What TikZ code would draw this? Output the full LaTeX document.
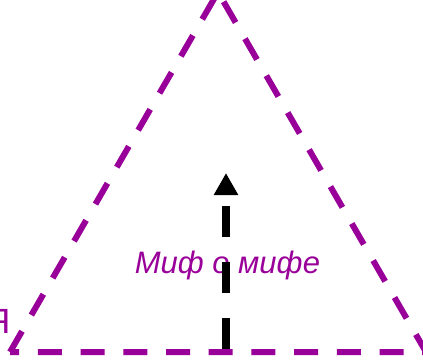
\documentclass[tikz,border=0pt]{standalone}
\usepackage{fontspec}
\setmainfont{Liberation Sans}
\usepackage{xcolor}
\usetikzlibrary{arrows.meta}
\definecolor{mythpurple}{RGB}{153,0,153}

\begin{document}
\begin{tikzpicture}[
    x=1pt, y=-1pt,
    edgeline/.style={draw=mythpurple, line width=6pt, dash pattern=on 24pt off 18.7pt},
    arrow/.style={-{Triangle[length=22pt, width=23pt]}, line width=8pt, dash pattern=on 31pt off 25pt},
    mythtext/.style={text=mythpurple, inner sep=0pt}
]
    \useasboundingbox (0,0) rectangle (423,360);
    \coordinate (peak) at (218,-8);
    \coordinate (baseleft) at (10,352);
    \coordinate (baseright) at (426,352);
    \coordinate (foot) at (226,349);
    \coordinate (head) at (226,173);

    \node[mythtext, font=\fontsize{31}{36}\selectfont\itshape, anchor=base] (myth) at (227.5,273) {Миф о мифе};
    \node[mythtext, font=\fontsize{35}{40}\selectfont, anchor=base east] (cut) at (10.5,333) {Я};

    \draw[edgeline] (baseleft) -- (peak) -- (baseright) -- cycle;
    \draw[arrow] (foot) -- (head);
\end{tikzpicture}
\end{document}
